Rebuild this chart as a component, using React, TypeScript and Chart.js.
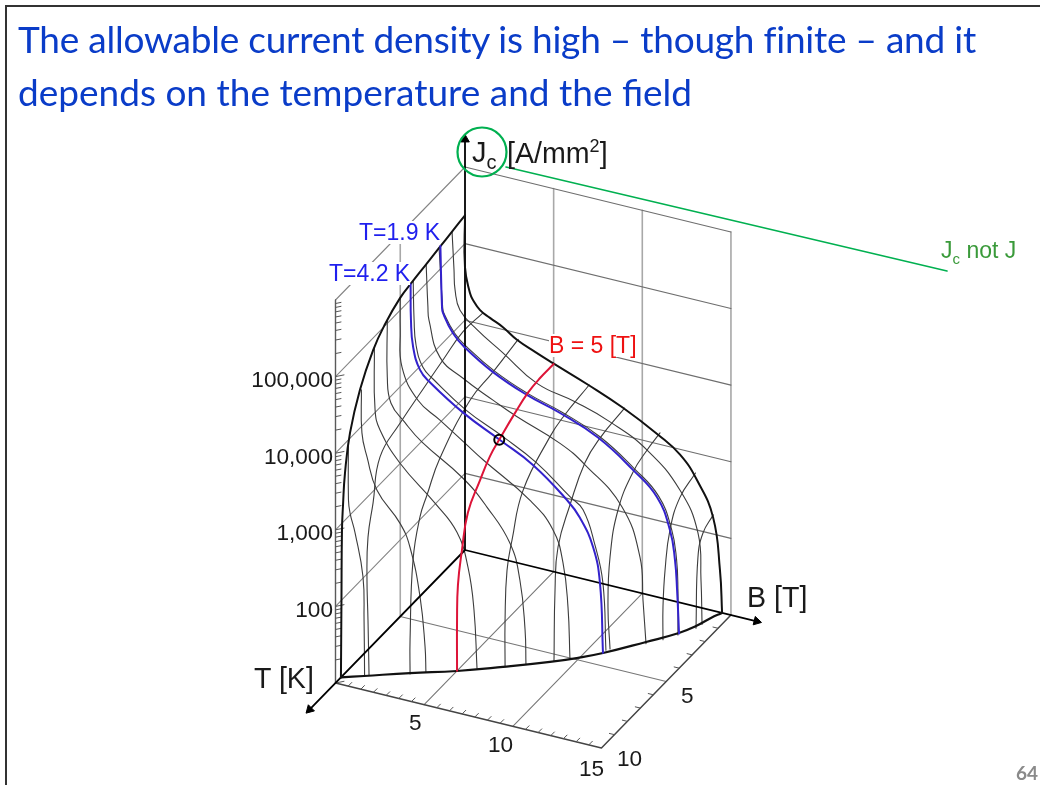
import React, { useEffect, useRef } from "react";
import { Chart, registerables } from "chart.js";

Chart.register(...registerables);

// ---- axis ticks ----
const jTickValues = [100, 1000, 10000, 100000];
const jTickLabels = ["100", "1,000", "10,000", "100,000"];
const bGridValues = [5, 10, 15];
const tGridValues = [5, 10];

// ---- Jc surface: constant T curves, [B in tesla, log10 Jc] ----
const curveT1 = [[0,5.33],[0.11,4.84],[0.17,4.58],[0.45,4.33],[1.41,4.13],[2.87,3.91],[4.79,3.62],[6.93,3.5],[8.91,3.35],[11,3.1],[12.86,2.68],[13.87,2.18],[14.04,1.58],[14.1,1]];
const curveT2 = [[0,5.29],[0.2,4.53],[0.26,4.46],[0.87,4.23],[1.55,4.09],[3.13,3.86],[5.04,3.67],[6.91,3.54],[9.05,3.34],[11.02,3.03],[12.38,2.75],[13.11,2.36],[13.39,1.99],[13.47,1.6],[13.47,1]];
const curveT3 = [[0,5.25],[0.1,4.7],[0.16,4.53],[0.78,4.08],[2.08,3.88],[3.77,3.69],[5.13,3.55],[7.55,3.34],[8.96,3.14],[11.04,2.71],[12.06,2.11],[12.23,1.56],[12.4,1]];
const curveT4 = [[0,5.21],[0.05,4.7],[0.16,4.38],[0.55,4.11],[1.12,3.99],[2.98,3.69],[5.06,3.46],[6.93,3.23],[8.84,2.89],[9.58,2.76],[10.25,2.34],[10.7,1.87],[10.87,1]];
const curveT5 = [[0,5.16],[0,4.74],[0.1,4.26],[1,3.88],[2.24,3.69],[3.65,3.47],[4.67,3.31],[7.32,2.93],[8.61,2.62],[9.18,2.22],[9.46,1.66],[9.57,1]];
const curveT6 = [[0,5.03],[0,4.3],[0.21,3.97],[1,3.76],[1.96,3.56],[4.27,3.22],[5.62,2.92],[6.92,2.52],[7.48,2.07],[7.77,1.44],[7.82,1]];
const curveT7 = [[0,4.85],[0.04,4.05],[0.32,3.8],[1.45,3.43],[3.42,3.02],[4.66,2.71],[5.28,2.29],[5.62,1.75],[5.79,1]];
const curveT8 = [[0,4.48],[0.03,3.92],[0.32,3.62],[0.88,3.22],[2.18,2.86],[2.74,2.58],[3.31,1.96],[3.59,1.33],[3.64,1]];
const curveT9 = [[0,4],[0,3.22],[0.09,3.05],[0.37,2.81],[0.82,2.26],[0.88,1.7],[0.91,0.97]];

// highlighted T = 1.9 K and T = 4.2 K, [B, log10 Jc]
const curveT19 = [[0,5.3],[0.09,4.51],[0.15,4.43],[0.71,4.2],[1.39,4.05],[2.97,3.82],[4.88,3.63],[6.75,3.5],[8.89,3.3],[10.86,2.99],[12.22,2.71],[12.95,2.32],[13.23,1.95],[13.35,1.56],[13.46,1]];
const curveT42 = [[0,5.2],[0.02,4.73],[0.14,4.39],[0.53,4.11],[1.09,3.98],[2.96,3.69],[5.04,3.45],[6.9,3.23],[8.82,2.88],[9.55,2.69],[10.29,2.35],[10.68,1.9],[10.85,1]];

// ---- Jc surface: constant B curves, [T in kelvin, log10 Jc] ----
const curveB1 = [[0,4.15],[1.52,4.17],[3.07,4.07],[4.3,3.98],[6.39,3.82],[7.93,3.65],[8.47,3.14],[8.86,2.76],[8.94,2.26],[8.86,1.68],[8.78,0.95]];
const curveB3 = [[0,3.92],[1.95,3.83],[3.72,3.77],[6.04,3.42],[7.04,3.11],[7.58,2.92],[8.12,2.45],[8.35,1.45],[8.35,1]];
const curveB5 = [[0,3.71],[1.05,3.71],[1.98,3.68],[2.98,3.59],[4.14,3.46],[4.92,3.36],[5.69,3.18],[6.62,2.92],[7.08,2.51],[7.39,2.11],[7.46,1.66],[7.46,1]];
const curveB7 = [[0,3.55],[2.02,3.48],[3.02,3.4],[5.1,3.06],[5.95,2.56],[6.34,2.23],[6.49,1.61],[6.49,1]];
const curveB9 = [[0,3.36],[1.9,3.3],[3.06,3.18],[4.21,2.83],[5.14,2.44],[5.37,1.92],[5.45,1]];
const curveB11 = [[0,3.15],[1.01,3.1],[2.09,3],[3.24,2.71],[3.86,2.2],[4.02,1.58],[3.86,1]];
const curveB13 = [[0,2.74],[1.2,2.63],[1.97,2.34],[2.35,1.88],[2.51,1.43],[2.51,1]];
const curveB14 = [[0,2.25],[0.79,2.15],[1.18,1.9],[1.33,1]];

// ---- Surface outline ----
const edgeB0 = [[0,5.37],[1,5.33],[2,5.29],[3,5.25],[4,5.21],[5.02,5.16],[6.18,5.02],[7.1,4.84],[8.11,4.5],[8.88,4.07],[9.27,3.61],[9.42,3.22],[9.5,2.91],[9.54,2],[9.58,1]]; // [T, log10 Jc]
const edgeT0 = [[0,5.37],[0,4.69],[0.28,4.37],[0.45,4.29],[0.85,4.18],[1.41,4.11],[2.14,4.03],[2.93,3.91],[3.95,3.81],[4.96,3.72],[6.94,3.55],[8.91,3.36],[10.89,3.12],[12.13,2.93],[13.09,2.65],[13.99,2.22],[14.38,1.55],[14.5,1]]; // [B, log10 Jc]
const criticalFloor = [[9.58,0],[9.15,0.99],[8.29,2.95],[7.47,5],[6.54,6.92],[5.54,8.84],[4.9,9.89],[4.21,10.86],[2.9,12.33],[1.87,13.43],[1.19,13.9],[0.48,14.22],[0.01,14.5]]; // [T, B]

// operating point marked on the surface: [T, B, log10 Jc]
const markedPoint = [4.2, 5, 3.45];

// Oblique view of the (T, B, log10 J) box on the chart's plane
const view = {
  originX: 465, originY: 550,
  bX: 17.73, bY: 4.33,
  tX: -12.95, tY: 13.3,
  decade: 76.6, floorLog: 1,
};
const project = (T: number, B: number, L: number) => ({
  x: view.originX + view.bX * B + view.tX * T,
  y: view.originY + view.bY * B + view.tY * T - view.decade * (L - view.floorLog),
});

const GAP = { x: NaN, y: NaN };
const TOP_LOG = 6;
const T_MAX = 10;
const B_MAX = 15;
const SMOOTH = 0.45;

const constT = (T: number, c: number[][]) => c.map(([B, L]) => project(T, B, L));
const constB = (B: number, c: number[][]) => c.map(([T, L]) => project(T, B, L));

function line(data: any[], color: string, width: number, tension = 0) {
  return {
    data,
    showLine: true,
    borderColor: color,
    backgroundColor: color,
    borderWidth: width,
    pointRadius: 0,
    tension,
    spanGaps: false,
    borderCapStyle: "round",
    borderJoinStyle: "round",
  };
}

function seg(a: any, b: any) {
  return [a, b, GAP];
}

function buildDatasets() {
  const ds: any[] = [];
  const verticals: any[] = [];
  bGridValues.forEach((B) => verticals.push(...seg(project(0, B, 1), project(0, B, TOP_LOG))));
  verticals.push(...seg(project(5, 0, 1), project(5, 0, TOP_LOG)));
  ds.push(line(verticals, "#a8a8a8", 1.6));
  const wallB: any[] = [];
  const wallT: any[] = [];
  for (let L = 2; L <= TOP_LOG; L++) {
    wallB.push(...seg(project(0, 0, L), project(0, B_MAX, L)));
    wallT.push(...seg(project(0, 0, L), project(T_MAX, 0, L)));
  }
  ds.push(line(wallB, "#6e6e6e", 1.1));
  ds.push(line(wallT, "#858585", 1.1));
  const floor: any[] = [];
  tGridValues.filter((T) => T < T_MAX).forEach((T) => floor.push(...seg(project(T, 0, 1), project(T, B_MAX, 1))));
  bGridValues.filter((B) => B < B_MAX).forEach((B) => floor.push(...seg(project(0, B, 1), project(T_MAX, B, 1))));
  ds.push(line(floor, "#777777", 1.1));
  ds.push(line([project(T_MAX, 0, 1), project(T_MAX, 0, TOP_LOG)], "#5a5a5a", 1.4));
  ds.push(line([project(T_MAX, 0, 1), project(T_MAX, B_MAX, 1), project(0, B_MAX, 1)], "#444444", 1.5));
  const ticks: any[] = [];
  for (let d = 1; d < TOP_LOG; d++) {
    for (let m = 1; m <= 9; m++) {
      const p = project(T_MAX, 0, d + Math.log10(m));
      const len = m === 1 ? 8.5 : 5.5;
      ticks.push(...seg(p, { x: p.x + len, y: p.y - len * 0.2 }));
    }
  }
  for (let i = 1; i < 21; i++) {
    const p = project(T_MAX, (i * 5) / 7, 1);
    const len = i % 7 === 0 ? 0 : 3.6;
    if (len) ticks.push(...seg(p, { x: p.x + len, y: p.y - len }));
  }
  for (let T = 1; T < T_MAX; T++) {
    if (T === 5) continue;
    const p = project(T, B_MAX, 1);
    ticks.push(...seg(p, { x: p.x - 5, y: p.y - 1.2 }));
  }
  ds.push(line(ticks, "#555555", 1));
  const thin = "#3c3c3c";
  [curveT1, curveT2, curveT3, curveT4, curveT5, curveT6, curveT7, curveT8, curveT9].forEach((c, i) =>
    ds.push(line(constT(i + 1, c), thin, 1.1, SMOOTH))
  );
  [[1, curveB1], [3, curveB3], [7, curveB7], [9, curveB9], [11, curveB11], [13, curveB13], [14, curveB14]].forEach(
    ([B, c]: any) => ds.push(line(constB(B, c), thin, 1.1, SMOOTH))
  );
  const axisW = 1.8;
  ds.push(line([project(0, 0, 1), project(0, 0, 6.36)], "#000000", axisW));
  ds.push(line([project(0, 0, 1), project(12.1, 0, 1)], "#000000", axisW));
  ds.push(line([project(0, 0, 1), project(0, 16.4, 1)], "#000000", axisW));
  const arrow = (p: any, rot: number) => ({
    data: [p],
    showLine: false,
    pointStyle: "triangle",
    pointRadius: 5,
    pointRotation: rot,
    pointBackgroundColor: "#000000",
    pointBorderColor: "#000000",
    pointBorderWidth: 1,
  });
  ds.push(arrow(project(0, 0, 6.36), 0));
  ds.push(arrow(project(12.0, 0, 1), 225));
  ds.push(arrow(project(0, 16.45, 1), 104));
  ds.push(line(constT(0, edgeT0), "#111111", 2, SMOOTH));
  ds.push(line(edgeB0.map(([T, L]) => project(T, 0, L)), "#111111", 2, SMOOTH));
  ds.push(line(criticalFloor.map(([T, B]) => project(T, B, 1)), "#111111", 2.2, SMOOTH));
  ds.push(line(constT(1.9, curveT19), "#3322cc", 2, SMOOTH));
  ds.push(line(constT(4.2, curveT42), "#3322cc", 2, SMOOTH));
  ds.push(line(constB(5, curveB5), "#dd1438", 2, SMOOTH));
  ds.push({
    data: [project(markedPoint[0], markedPoint[1], markedPoint[2])],
    showLine: false,
    pointRadius: 5,
    pointBackgroundColor: "rgba(0,0,0,0)",
    pointBorderColor: "#000000",
    pointBorderWidth: 2,
  });
  ds.push(line([{ x: 506, y: 167 }, { x: 947, y: 271 }], "#00b050", 1.6));
  ds.push({
    data: [{ x: 482, y: 152 }],
    showLine: false,
    pointRadius: 24.5,
    pointBackgroundColor: "rgba(0,0,0,0)",
    pointBorderColor: "#00b050",
    pointBorderWidth: 2.2,
  });
  return ds.reverse();
}

const sans = '"Liberation Sans", Arial, sans-serif';

function Txt(props: { x: number; base: number; size: number; color?: string; right?: boolean; bg?: boolean; children: any; font?: string; weight?: number }) {
  const { x, base, size, color = "#1a1a1a", right, bg, children, font = sans, weight = 400 } = props;
  const top = base - 0.8465 * size;
  const st: React.CSSProperties = {
    position: "absolute",
    top,
    fontFamily: font,
    fontSize: size,
    fontWeight: weight,
    lineHeight: `${size}px`,
    color,
    whiteSpace: "nowrap",
    background: bg ? "#ffffff" : "transparent",
  };
  if (right) st.right = 1040 - x;
  else st.left = x;
  return <span style={st}>{children}</span>;
}

const jLabelBaselines = jTickValues.map((v) => project(T_MAX, 0, Math.log10(v)).y + 11.5);

export default function App() {
  const ref = useRef<HTMLCanvasElement>(null);
  useEffect(() => {
    if (!ref.current) return;
    const chart = new Chart(ref.current, {
      type: "scatter",
      data: { datasets: buildDatasets() },
      options: {
        animation: false,
        responsive: false,
        layout: { padding: 0, autoPadding: false },
        plugins: { legend: { display: false }, tooltip: { enabled: false }, title: { display: false } },
        scales: {
          x: { type: "linear", min: 0, max: 1040, display: false },
          y: { type: "linear", min: 0, max: 785, reverse: true, display: false },
        },
      },
    } as any);
    return () => chart.destroy();
  }, []);
  const titleStyle: React.CSSProperties = {
    position: "absolute",
    left: 18,
    fontFamily: "Lato, sans-serif",
    fontSize: 37,
    lineHeight: "40px",
    color: "#0a3cc8",
    whiteSpace: "nowrap",
  };
  return (
    <div style={{ position: "absolute", left: 0, top: 0, width: 1040, height: 785, overflow: "hidden", background: "#fff" }}>
      <canvas ref={ref} width={1040} height={785} style={{ position: "absolute", left: 0, top: 0, width: 1040, height: 785 }} />
      <div style={{ position: "absolute", left: 5, top: 5, width: 1040, height: 785, borderLeft: "2px solid #333", borderTop: "2px solid #333" }} />
      <div style={{ ...titleStyle, top: 19, letterSpacing: -0.23 }}>The allowable current density is high – though finite – and it</div>
      <div style={{ ...titleStyle, top: 72 }}>depends on the temperature and the field</div>

      <Txt x={472} base={163} size={29}>J<sub style={{ fontSize: 20, lineHeight: 0 }}>c</sub></Txt>
      <Txt x={507} base={163} size={28.6}>[A/mm<sup style={{ fontSize: 18, lineHeight: 0 }}>2</sup>]</Txt>
      <Txt x={359} base={240} size={23} color="#1f1fee" bg>T=1.9 K</Txt>
      <Txt x={329} base={281} size={23} color="#1f1fee" bg>T=4.2 K</Txt>
      <Txt x={549} base={353} size={23} color="#ee1111" bg>B = 5 [T]</Txt>
      <Txt x={941} base={258} size={23} color="#3a9a3a">J<sub style={{ fontSize: 15, lineHeight: 0 }}>c</sub> not J</Txt>

      {jTickLabels.map((s, i) => (
        <Txt key={s} x={333} base={jLabelBaselines[i]} size={22.6} right>{s}</Txt>
      ))}
      <Txt x={254} base={688} size={28.6}>T [K]</Txt>
      <Txt x={747} base={607} size={28.6}>B [T]</Txt>
      <Txt x={409} base={731} size={22.6}>5</Txt>
      <Txt x={488} base={753} size={22.6}>10</Txt>
      <Txt x={579} base={777} size={22.6}>15</Txt>
      <Txt x={681} base={704} size={22.6}>5</Txt>
      <Txt x={617} base={767} size={22.6}>10</Txt>
      <Txt x={1016} base={779} size={19} color="#8a8a8a" weight={700} font="Lato, sans-serif">64</Txt>
    </div>
  );
}
